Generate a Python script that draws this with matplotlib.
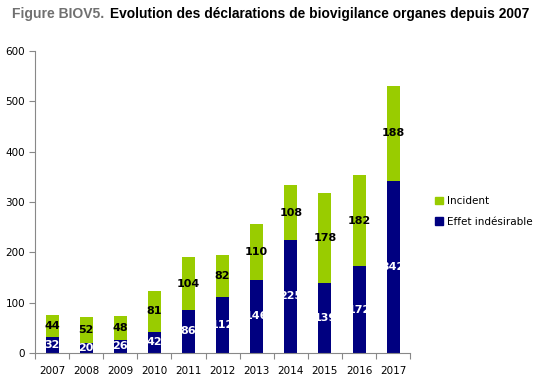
import matplotlib
matplotlib.use("Agg")
import matplotlib.pyplot as plt
from matplotlib.patches import Patch

years = ["2007", "2008", "2009", "2010", "2011", "2012", "2013", "2014", "2015", "2016", "2017"]
effet = [32, 20, 26, 42, 86, 112, 146, 225, 139, 172, 342]
incident = [44, 52, 48, 81, 104, 82, 110, 108, 178, 182, 188]
yticks = [0, 100, 200, 300, 400, 500, 600]

green = "#99CC00"
navy = "#000080"

fig = plt.figure(figsize=(5.36, 3.8), dpi=100)
ax = fig.add_axes([0.0653, 0.071, 0.700, 0.795])

x = list(range(len(years)))
w = 0.38
ax.bar(x, effet, width=w, color=navy, zorder=2)
ax.bar(x, incident, width=w, bottom=effet, color=green, zorder=2)

for i in x:
    ax.text(i, effet[i] / 2, str(effet[i]), ha="center", va="center",
            color="white", fontsize=8, fontweight="bold", family="DejaVu Sans")
    ax.text(i, effet[i] + incident[i] / 2, str(incident[i]), ha="center", va="center",
            color="black", fontsize=8, fontweight="bold", family="DejaVu Sans")

ax.set_xlim(-0.5, len(years) - 0.5)
ax.set_ylim(0, 600)
ax.set_yticks(yticks)
ax.set_yticklabels([str(v) for v in yticks], fontsize=7.5)
ax.set_xticks(x)
ax.set_xticklabels(years, fontsize=7.5)
ax.tick_params(axis="x", which="major", length=0, pad=9)
ax.set_xticks([i - 0.5 for i in range(len(years) + 1)], minor=True)
ax.tick_params(axis="x", which="minor", length=4, color="#888888", width=0.8)
ax.tick_params(axis="y", length=4, color="#888888", width=0.8, pad=3)
for s in ["top", "right"]:
    ax.spines[s].set_visible(False)
for s in ["left", "bottom"]:
    ax.spines[s].set_color("#888888")
    ax.spines[s].set_linewidth(0.8)

handles = [Patch(color=green, label="Incident"), Patch(color=navy, label="Effet indésirable")]
fig.legend(handles=handles, loc="upper left", bbox_to_anchor=(0.795, 0.508),
           frameon=False, fontsize=7.5, handlelength=0.7, handleheight=0.7,
           handletextpad=0.4, labelspacing=1.0)

fig.text(0.022, 0.963, "Figure BIOV5.", color="#707070", fontsize=10, fontweight="bold",
         family="Liberation Sans", va="center")
fig.text(0.205, 0.963, "Evolution des déclarations de biovigilance organes depuis 2007",
         color="black", fontsize=9.9, fontweight="bold", family="Liberation Sans", va="center")

fig.savefig("out.png", dpi=100)
